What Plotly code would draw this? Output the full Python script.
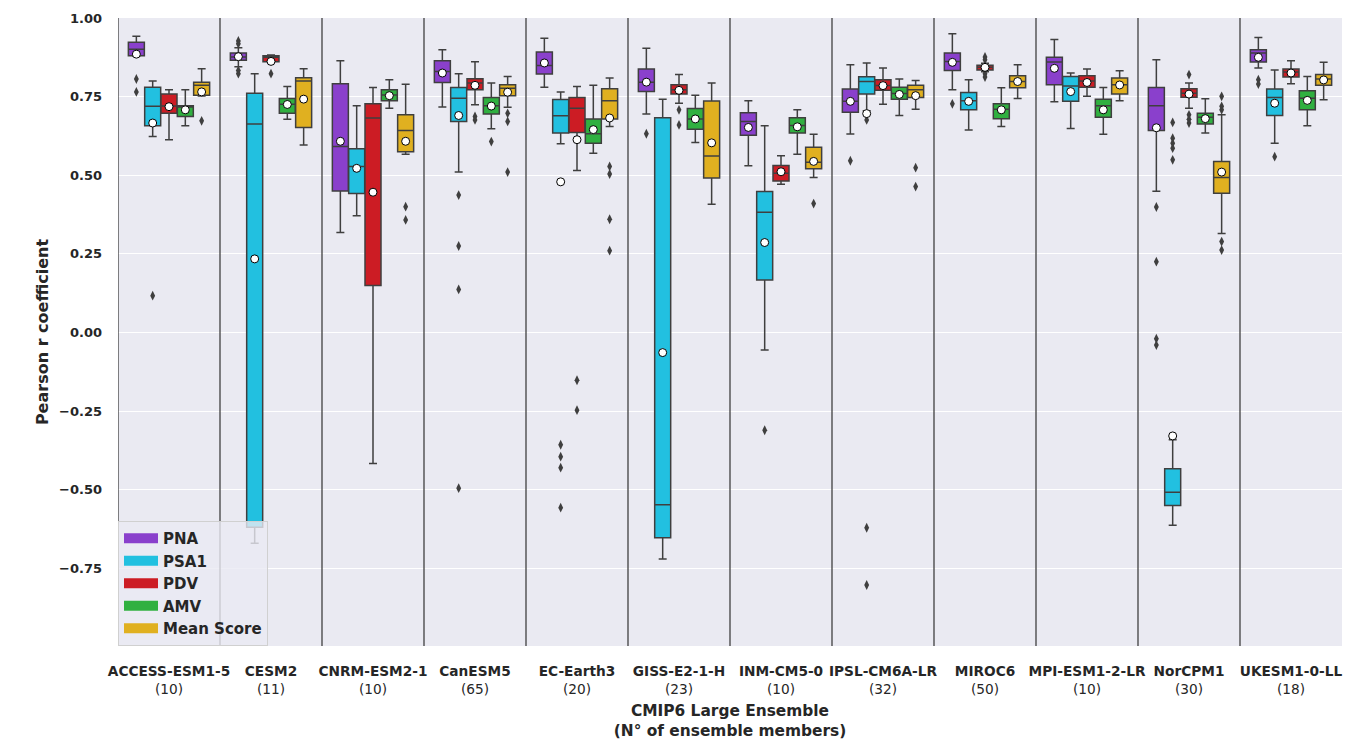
import plotly.graph_objects as go

MODELS = ["ACCESS-ESM1-5", "CESM2", "CNRM-ESM2-1", "CanESM5", "EC-Earth3", "GISS-E2-1-H",
          "INM-CM5-0", "IPSL-CM6A-LR", "MIROC6", "MPI-ESM1-2-LR", "NorCPM1", "UKESM1-0-LL"]
MEMBERS = [10, 11, 10, 65, 20, 23, 10, 32, 50, 10, 30, 18]
INDICES = ["PNA", "PSA1", "PDV", "AMV", "Mean Score"]

# ---- PNA ----
pna_lo = [0.878, 0.845, 0.318, 0.717, 0.780, 0.695, 0.530, 0.631, 0.772, 0.734, 0.449, 0.841]
pna_q1 = [0.880, 0.866, 0.450, 0.795, 0.822, 0.766, 0.627, 0.700, 0.833, 0.788, 0.642, 0.860]
pna_med = [0.901, 0.876, 0.591, 0.830, 0.849, 0.796, 0.671, 0.735, 0.862, 0.860, 0.721, 0.889]
pna_q3 = [0.923, 0.889, 0.791, 0.864, 0.892, 0.838, 0.699, 0.774, 0.889, 0.875, 0.779, 0.899]
pna_hi = [0.942, 0.905, 0.864, 0.899, 0.936, 0.904, 0.737, 0.851, 0.950, 0.932, 0.867, 0.938]
pna_mean = [0.885, 0.877, 0.608, 0.825, 0.857, 0.796, 0.652, 0.735, 0.859, 0.840, 0.651, 0.875]
pna_out = [[0.806, 0.765], [0.927, 0.918, 0.833, 0.823], [], [], [], [0.632], [], [0.546],
           [0.727], [], [0.399, 0.225, -0.020, -0.040], [0.804, 0.790]]

# ---- PSA1 ----
psa_lo = [0.623, -0.670, 0.371, 0.510, 0.600, -0.720, -0.056, 0.705, 0.644, 0.649, -0.613, 0.602]
psa_q1 = [0.657, -0.619, 0.442, 0.671, 0.634, -0.653, 0.167, 0.758, 0.708, 0.735, -0.550, 0.690]
psa_med = [0.719, 0.663, 0.528, 0.745, 0.689, -0.548, 0.382, 0.798, 0.737, 0.784, -0.508, 0.747]
psa_q3 = [0.780, 0.761, 0.584, 0.779, 0.741, 0.683, 0.448, 0.813, 0.763, 0.814, -0.433, 0.774]
psa_hi = [0.800, 0.823, 0.721, 0.823, 0.765, 0.742, 0.657, 0.857, 0.804, 0.825, -0.341, 0.835]
psa_mean = [0.666, 0.234, 0.522, 0.690, 0.479, -0.064, 0.286, 0.696, 0.735, 0.766, -0.329, 0.729]
psa_out = [[0.117], [], [], [0.437, 0.275, 0.137, -0.495], [-0.357, -0.395, -0.430, -0.557], [],
           [-0.311], [0.676, -0.621, -0.803], [], [], [0.668, 0.618, 0.602, 0.586, 0.549], [0.559]]

# ---- PDV ----
pdv_lo = [0.613, 0.858, -0.417, 0.724, 0.515, 0.729, 0.471, 0.726, 0.829, 0.751, 0.713, 0.791]
pdv_q1 = [0.697, 0.861, 0.149, 0.772, 0.636, 0.758, 0.482, 0.770, 0.835, 0.780, 0.748, 0.812]
pdv_med = [0.720, 0.875, 0.682, 0.793, 0.713, 0.772, 0.506, 0.785, 0.843, 0.800, 0.761, 0.828]
pdv_q3 = [0.758, 0.880, 0.727, 0.807, 0.747, 0.788, 0.531, 0.804, 0.850, 0.816, 0.775, 0.838]
pdv_hi = [0.772, 0.882, 0.779, 0.861, 0.782, 0.820, 0.562, 0.841, 0.856, 0.838, 0.793, 0.864]
pdv_mean = [0.718, 0.862, 0.446, 0.786, 0.613, 0.770, 0.511, 0.785, 0.843, 0.795, 0.758, 0.825]
pdv_out = [[], [0.823], [], [0.687, 0.676], [-0.152, -0.247], [0.708, 0.660], [], [],
           [0.876, 0.867, 0.823, 0.812], [], [0.820, 0.692, 0.678, 0.666], []]

# ---- AMV ----
amv_lo = [0.657, 0.678, 0.713, 0.648, 0.570, 0.604, 0.567, 0.690, 0.655, 0.630, 0.634, 0.657]
amv_q1 = [0.687, 0.697, 0.737, 0.695, 0.602, 0.646, 0.634, 0.742, 0.680, 0.684, 0.663, 0.708]
amv_med = [0.717, 0.726, 0.755, 0.721, 0.632, 0.679, 0.658, 0.760, 0.710, 0.721, 0.684, 0.745]
amv_q3 = [0.721, 0.744, 0.772, 0.747, 0.679, 0.712, 0.683, 0.780, 0.727, 0.742, 0.697, 0.769]
amv_hi = [0.772, 0.782, 0.804, 0.793, 0.786, 0.754, 0.708, 0.806, 0.778, 0.779, 0.743, 0.814]
amv_mean = [0.708, 0.725, 0.753, 0.720, 0.645, 0.679, 0.654, 0.757, 0.708, 0.708, 0.680, 0.738]
amv_out = [[], [], [], [0.607], [], [], [], [], [], [], [], []]

# ---- Mean Score ----
ms_lo = [0.752, 0.596, 0.567, 0.716, 0.655, 0.408, 0.493, 0.710, 0.744, 0.737, 0.315, 0.740]
ms_q1 = [0.754, 0.652, 0.575, 0.753, 0.679, 0.491, 0.521, 0.747, 0.778, 0.758, 0.443, 0.786]
ms_med = [0.786, 0.800, 0.642, 0.777, 0.737, 0.561, 0.541, 0.772, 0.798, 0.788, 0.493, 0.806]
ms_q3 = [0.796, 0.810, 0.692, 0.788, 0.775, 0.736, 0.589, 0.786, 0.816, 0.809, 0.544, 0.820]
ms_hi = [0.839, 0.839, 0.789, 0.814, 0.809, 0.793, 0.630, 0.801, 0.851, 0.832, 0.692, 0.859]
ms_mean = [0.765, 0.742, 0.608, 0.764, 0.682, 0.603, 0.544, 0.753, 0.798, 0.787, 0.510, 0.803]
ms_out = [[0.673], [], [0.400, 0.358], [0.697, 0.671, 0.510], [0.528, 0.504, 0.360, 0.260], [],
          [0.410], [0.524, 0.464], [], [], [0.751, 0.719, 0.708, 0.289, 0.262], []]

Y_TICKS = [-0.75, -0.50, -0.25, 0.00, 0.25, 0.50, 0.75, 1.00]

COLORS = ["#8A40CC", "#22C0E0", "#CC1C24", "#30B040", "#E0B020"]
EDGE = "#3f3f3f"
FONT = "DejaVu Sans"
TXT = "#262626"

series = [
    (pna_lo, pna_q1, pna_med, pna_q3, pna_hi, pna_mean, pna_out),
    (psa_lo, psa_q1, psa_med, psa_q3, psa_hi, psa_mean, psa_out),
    (pdv_lo, pdv_q1, pdv_med, pdv_q3, pdv_hi, pdv_mean, pdv_out),
    (amv_lo, amv_q1, amv_med, amv_q3, amv_hi, amv_mean, amv_out),
    (ms_lo, ms_q1, ms_med, ms_q3, ms_hi, ms_mean, ms_out),
]

n_hue = len(INDICES)
group_w = 0.8
box_w = group_w / n_hue
fig = go.Figure()

for h, (name, col, s) in enumerate(zip(INDICES, COLORS, series)):
    lo, q1, med, q3, hi, mean, out = s
    off = -group_w / 2 + box_w * (h + 0.5)
    xs = [i + off for i in range(len(MODELS))]
    fig.add_trace(go.Box(
        x=xs, lowerfence=lo, q1=q1, median=med, q3=q3, upperfence=hi,
        width=box_w * 0.98, whiskerwidth=0.5, fillcolor=col,
        line=dict(color=EDGE, width=1.5), boxpoints=False, name=name,
        hoverinfo="skip", legendgroup=name, showlegend=False,
    ))
    # legend patch (thick line icon)
    fig.add_trace(go.Scatter(
        x=[None], y=[None], mode="lines",
        line=dict(color=col, width=12), name=name, legendgroup=name,
        showlegend=True, hoverinfo="skip",
    ))
    ox, oy = [], []
    for i, vals in enumerate(out):
        for v in vals:
            ox.append(i + off)
            oy.append(v)
    fig.add_trace(go.Scatter(
        x=ox, y=oy, mode="markers", showlegend=False, legendgroup=name,
        marker=dict(symbol="diamond-tall", size=7, color=EDGE, line=dict(width=0)),
        hoverinfo="skip",
    ))
    fig.add_trace(go.Scatter(
        x=xs, y=mean, mode="markers", showlegend=False, legendgroup=name,
        marker=dict(symbol="circle", size=8, color="white", line=dict(color="black", width=1)),
        hoverinfo="skip",
    ))

for i in range(len(MODELS)):
    fig.add_shape(type="line", xref="x", yref="paper", x0=i - 0.5, x1=i - 0.5, y0=0, y1=1,
                  line=dict(color="#404040", width=1.3), layer="above")

ticktext = [f"<b>{m}</b><br>({n})" for m, n in zip(MODELS, MEMBERS)]

fig.update_layout(
    width=1353, height=754,
    margin=dict(l=118, r=11, t=18, b=108),
    paper_bgcolor="white", plot_bgcolor="#EAEAF2",
    font=dict(family=FONT, color=TXT, size=13),
    boxmode="overlay",
    showlegend=True,
    legend=dict(x=0.0, y=0.0, xanchor="left", yanchor="bottom",
                bgcolor="rgba(234,234,242,0.8)", bordercolor="#d0d0d0", borderwidth=1,
                font=dict(family=FONT, size=15, weight="bold", color=TXT),
                tracegroupgap=0, itemwidth=34),
    xaxis=dict(range=[-0.5, len(MODELS) - 0.5], tickmode="array",
               tickvals=list(range(len(MODELS))), ticktext=ticktext,
               showgrid=False, zeroline=False, ticks="", ticklabelstandoff=15,
               tickfont=dict(size=13.7, family=FONT, color=TXT),
               title=dict(text="<b>CMIP6 Large Ensemble<br>(N° of ensemble members)</b>",
                          font=dict(size=15.4, family=FONT, color=TXT), standoff=9)),
    yaxis=dict(range=[-0.997, 1.0], tickmode="array", tickvals=Y_TICKS,
               tickformat=".2f", showgrid=True, gridcolor="white", gridwidth=1.2,
               zeroline=False, ticks="", ticklabelstandoff=15,
               tickfont=dict(size=13, family=FONT, color=TXT, weight="bold"),
               title=dict(text="<b>Pearson r coefficient</b>",
                          font=dict(size=16, family=FONT, color=TXT), standoff=6)),
)

fig.write_html("out.html")
